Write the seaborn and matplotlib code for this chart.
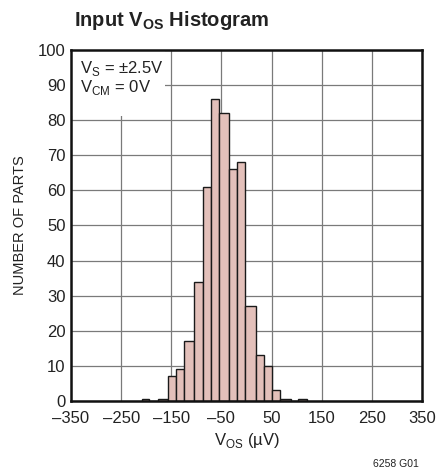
import numpy as np
import matplotlib
matplotlib.use('Agg')
import matplotlib.pyplot as plt
import seaborn as sns
from matplotlib.patches import Rectangle

# bin edges (uV) and number of parts per bin
bin_edges = [-209, -194, -177, -157, -141, -124, -104, -87, -71, -55,
             -34, -18, -2, 19, 35, 51, 67, 89, 103, 120]
counts = [0.5, 0, 0.5, 7, 9, 17, 34, 61, 86, 82,
          66, 68, 27, 13, 10, 3, 0.5, 0, 0.6]
x_ticks = [-350, -250, -150, -50, 50, 150, 250, 350]
y_ticks = [0, 10, 20, 30, 40, 50, 60, 70, 80, 90, 100]

centers = [(a + b) / 2 for a, b in zip(bin_edges[:-1], bin_edges[1:])]

sns.set_style('white')
plt.rcParams['font.family'] = ['Liberation Sans', 'DejaVu Sans']
plt.rcParams['mathtext.fontset'] = 'custom'
plt.rcParams['mathtext.rm'] = 'Liberation Sans'
plt.rcParams['mathtext.bf'] = 'Liberation Sans:bold'

fig = plt.figure(figsize=(4.37, 4.74), dpi=100)
ax = fig.add_axes([0.1625, 0.154, 0.803, 0.741])

sns.histplot(x=centers, weights=counts, bins=bin_edges, color='#e3c0ba',
             edgecolor='#1a1a1a', linewidth=1.0, alpha=1, ax=ax, zorder=3)

ax.set_xlim(-350, 350)
ax.set_ylim(0, 100)
ax.set_xticks(x_ticks)
ax.set_yticks(y_ticks)
ax.set_xticklabels([str(t).replace('-', '\u2013') for t in x_ticks])
ax.grid(True, color='#7a7a7a', linewidth=0.9, zorder=0)
ax.set_axisbelow(True)
ax.tick_params(axis='x', length=0, labelsize=12, pad=7, colors='#222222')
ax.tick_params(axis='y', length=0, labelsize=12, pad=4, colors='#222222')
for s in ax.spines.values():
    s.set_color('#111111')
    s.set_linewidth(1.8)
    s.set_zorder(5)

# white label area in the upper left corner
ax.add_patch(Rectangle((0, 0.812), 0.268, 0.188, transform=ax.transAxes,
                       facecolor='white', edgecolor='none', zorder=2))
ax.text(0.025, 0.975, r'V$_\mathregular{S}$ = ±2.5V' + '\n' + r'V$_\mathregular{CM}$ = 0V',
        transform=ax.transAxes, ha='left', va='top', fontsize=12,
        linespacing=1.0, color='#222222', zorder=4)

ax.set_xlabel(r'V$_\mathregular{OS}$ (µV)', fontsize=12, color='#222222', labelpad=4)
ax.set_ylabel('NUMBER OF PARTS', fontsize=10.5, color='#222222', labelpad=8)

fig.text(0.17, 0.957, r'Input V$_\mathbf{OS}$ Histogram', fontsize=14.5,
         fontweight='bold', ha='left', va='center', color='#222222')
fig.text(0.905, 0.022, '6258 G01', fontsize=7.5, ha='center', va='center',
         color='#222222')

fig.savefig('out.png', dpi=100)
